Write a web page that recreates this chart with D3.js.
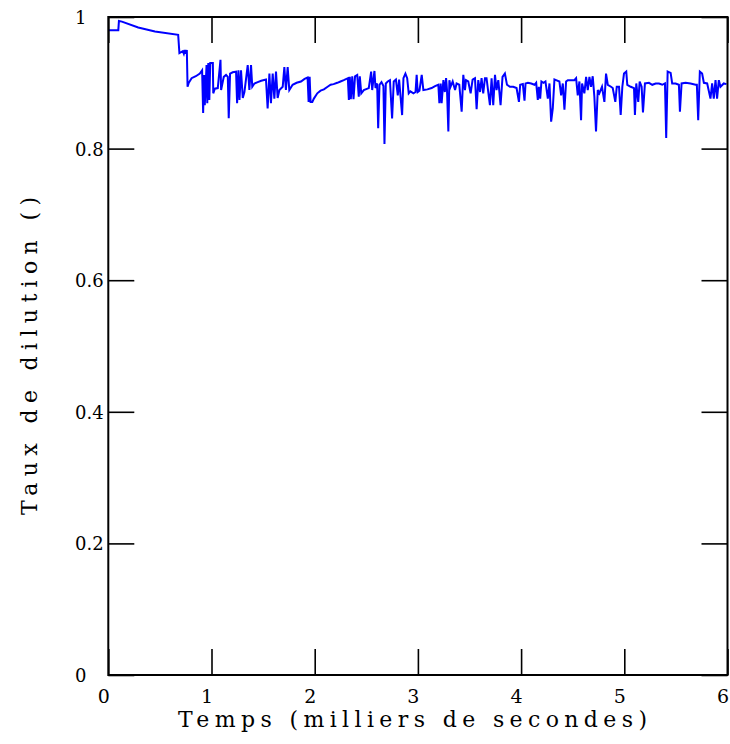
<!DOCTYPE html>
<html>
<head>
<meta charset="utf-8">
<script src="https://cdn.jsdelivr.net/npm/d3@7"></script>
<style>
  html, body { margin: 0; padding: 0; background: #fff; }
  svg { display: block; }
  svg text { font-family: "DejaVu Serif", serif; fill: #000; }
</style>
</head>
<body>
<svg id="chart" width="730" height="744"></svg>
<script>
// ---- data (temps en milliers de secondes, taux de dilution) ----
const times = [
  0, 0.097, 0.103, 0.132, 0.290, 0.452, 0.677, 0.689, 0.722, 0.732, 0.742, 0.751, 0.761, 0.768, 0.780, 0.807, 0.848, 0.887, 0.909, 0.919,
  0.928, 0.935, 0.952, 0.959, 0.969, 0.979, 0.988, 1.013, 1.017, 1.032, 1.061, 1.087, 1.093, 1.119, 1.141, 1.158, 1.167, 1.180, 1.206, 1.238,
  1.248, 1.261, 1.271, 1.286, 1.303, 1.319, 1.351, 1.367, 1.383, 1.395, 1.416, 1.448, 1.482, 1.528, 1.544, 1.561, 1.576, 1.593, 1.609, 1.625,
  1.641, 1.658, 1.690, 1.706, 1.721, 1.738, 1.754, 1.786, 1.825, 1.867, 1.902, 1.931, 1.941, 1.951, 1.960, 1.977, 1.992, 2.025, 2.057, 2.089,
  2.125, 2.154, 2.183, 2.219, 2.250, 2.282, 2.321, 2.331, 2.340, 2.350, 2.364, 2.376, 2.391, 2.412, 2.427, 2.437, 2.451, 2.476, 2.524, 2.547,
  2.557, 2.579, 2.589, 2.605, 2.615, 2.628, 2.647, 2.666, 2.676, 2.689, 2.708, 2.729, 2.750, 2.766, 2.787, 2.805, 2.818, 2.847, 2.860, 2.879,
  2.896, 2.911, 2.927, 2.957, 2.977, 2.988, 2.998, 3.015, 3.037, 3.053, 3.092, 3.133, 3.166, 3.198, 3.208, 3.221, 3.230, 3.247, 3.261, 3.273,
  3.282, 3.295, 3.305, 3.317, 3.337, 3.360, 3.375, 3.401, 3.424, 3.440, 3.456, 3.466, 3.488, 3.511, 3.530, 3.553, 3.569, 3.585, 3.602, 3.617,
  3.633, 3.650, 3.665, 3.682, 3.698, 3.714, 3.730, 3.747, 3.762, 3.779, 3.801, 3.820, 3.843, 3.863, 3.892, 3.924, 3.956, 3.979, 3.991, 4.017,
  4.033, 4.043, 4.066, 4.098, 4.130, 4.146, 4.162, 4.172, 4.185, 4.197, 4.217, 4.236, 4.259, 4.275, 4.291, 4.307, 4.323, 4.339, 4.371, 4.388,
  4.404, 4.420, 4.436, 4.453, 4.485, 4.516, 4.533, 4.549, 4.565, 4.581, 4.591, 4.613, 4.630, 4.646, 4.662, 4.678, 4.694, 4.710, 4.726, 4.743,
  4.758, 4.784, 4.807, 4.823, 4.840, 4.871, 4.888, 4.913, 4.927, 4.949, 4.965, 4.981, 4.997, 5.019, 5.029, 5.062, 5.094, 5.103, 5.116, 5.135,
  5.149, 5.168, 5.181, 5.200, 5.239, 5.271, 5.304, 5.336, 5.368, 5.394, 5.406, 5.420, 5.449, 5.464, 5.497, 5.529, 5.539, 5.555, 5.594, 5.642,
  5.691, 5.703, 5.716, 5.732, 5.754, 5.771, 5.803, 5.835, 5.851, 5.867, 5.884, 5.899, 5.916, 5.932, 5.964, 5.990
];
const dilution = [
  0.980, 0.980, 0.994, 0.993, 0.984, 0.978, 0.973, 0.945, 0.948, 0.944, 0.950, 0.944, 0.950, 0.894, 0.900, 0.907, 0.910, 0.914, 0.919, 0.854,
  0.912, 0.866, 0.927, 0.869, 0.930, 0.874, 0.930, 0.930, 0.884, 0.891, 0.892, 0.935, 0.889, 0.909, 0.912, 0.909, 0.846, 0.914, 0.916, 0.917,
  0.869, 0.919, 0.874, 0.919, 0.877, 0.886, 0.927, 0.889, 0.927, 0.894, 0.899, 0.901, 0.903, 0.905, 0.861, 0.914, 0.869, 0.914, 0.876, 0.917,
  0.877, 0.889, 0.894, 0.924, 0.889, 0.924, 0.889, 0.897, 0.900, 0.902, 0.906, 0.908, 0.871, 0.909, 0.871, 0.871, 0.876, 0.884, 0.888, 0.890,
  0.894, 0.897, 0.898, 0.900, 0.902, 0.904, 0.907, 0.874, 0.909, 0.875, 0.910, 0.875, 0.910, 0.912, 0.879, 0.910, 0.884, 0.889, 0.892, 0.917,
  0.889, 0.918, 0.892, 0.899, 0.831, 0.897, 0.901, 0.895, 0.807, 0.899, 0.902, 0.904, 0.846, 0.902, 0.905, 0.881, 0.905, 0.851, 0.907, 0.914,
  0.907, 0.884, 0.887, 0.884, 0.886, 0.912, 0.886, 0.888, 0.912, 0.889, 0.890, 0.892, 0.895, 0.897, 0.869, 0.899, 0.869, 0.904, 0.886, 0.907,
  0.889, 0.826, 0.904, 0.894, 0.902, 0.889, 0.899, 0.897, 0.856, 0.912, 0.889, 0.904, 0.902, 0.884, 0.905, 0.907, 0.860, 0.904, 0.886, 0.907,
  0.884, 0.907, 0.907, 0.886, 0.866, 0.907, 0.866, 0.912, 0.889, 0.904, 0.866, 0.909, 0.914, 0.897, 0.894, 0.894, 0.892, 0.871, 0.897, 0.898,
  0.873, 0.899, 0.900, 0.899, 0.897, 0.900, 0.874, 0.894, 0.876, 0.902, 0.900, 0.902, 0.876, 0.899, 0.841, 0.861, 0.905, 0.904, 0.902, 0.881,
  0.899, 0.859, 0.902, 0.904, 0.904, 0.904, 0.907, 0.881, 0.902, 0.843, 0.899, 0.884, 0.909, 0.889, 0.909, 0.894, 0.910, 0.879, 0.826, 0.889,
  0.884, 0.894, 0.871, 0.914, 0.897, 0.894, 0.892, 0.871, 0.894, 0.894, 0.851, 0.894, 0.914, 0.917, 0.897, 0.894, 0.892, 0.851, 0.899, 0.871,
  0.902, 0.894, 0.855, 0.899, 0.900, 0.897, 0.899, 0.899, 0.897, 0.899, 0.816, 0.917, 0.915, 0.899, 0.899, 0.897, 0.856, 0.899, 0.900, 0.899,
  0.897, 0.897, 0.843, 0.917, 0.914, 0.900, 0.899, 0.876, 0.899, 0.876, 0.904, 0.876, 0.904, 0.894, 0.899, 0.898
];
const xTicks = [0, 1, 2, 3, 4, 5, 6];
const xTickLabels = ["0", "1", "2", "3", "4", "5", "6"];
const yTicks = [0, 0.2, 0.4, 0.6, 0.8, 1];
const yTickLabels = ["0", "0.2", "0.4", "0.6", "0.8", "1"];
const xTitle = "Temps (milliers de secondes)";
const yTitle = "Taux de dilution ()";

(function () {
  const mLeft = 108.3, mRight = 727.5, mTop = 17, mBottom = 675;
  const tickLen = 26;
  const FONT = "'DejaVu Serif', serif";

  const svg = d3.select("#chart");
  const x = d3.scaleLinear().domain([0, 6]).range([mLeft, mRight]);
  const y = d3.scaleLinear().domain([0, 1]).range([mBottom, mTop]);

  const data = times.map((t, i) => ({ t, v: dilution[i] }));

  svg.append("path")
    .datum(data)
    .attr("fill", "none")
    .attr("stroke", "#0000ff")
    .attr("stroke-width", 2)
    .attr("d", d3.line().x(d => x(d.t)).y(d => y(d.v)));

  function styleAxis(g) {
    g.select(".domain").remove();
    g.selectAll(".tick line").attr("stroke", "#000").attr("stroke-width", 1.6);
  }

  const gx = svg.append("g")
    .attr("transform", `translate(0,${mBottom})`)
    .call(d3.axisBottom(x).tickValues(xTicks).tickSize(-tickLen)
      .tickFormat((d, i) => xTickLabels[i]));
  styleAxis(gx);
  gx.selectAll(".tick text")
    .attr("y", 28).attr("dy", 0).attr("x", -5)
    .style("font-family", FONT).style("font-size", "19px");

  const gxt = svg.append("g")
    .attr("transform", `translate(0,${mTop})`)
    .call(d3.axisTop(x).tickValues(xTicks).tickSize(-tickLen).tickFormat(""));
  styleAxis(gxt);

  const gy = svg.append("g")
    .attr("transform", `translate(${mLeft},0)`)
    .call(d3.axisLeft(y).tickValues(yTicks).tickSize(-tickLen)
      .tickFormat((d, i) => yTickLabels[i]));
  styleAxis(gy);
  gy.selectAll(".tick text")
    .attr("text-anchor", "start")
    .attr("x", 75 - mLeft)
    .attr("dy", "0.36em")
    .style("font-family", FONT).style("font-size", "18px");

  const gyr = svg.append("g")
    .attr("transform", `translate(${mRight},0)`)
    .call(d3.axisRight(y).tickValues(yTicks).tickSize(-tickLen).tickFormat(""));
  styleAxis(gyr);

  svg.append("rect")
    .attr("x", mLeft).attr("y", mTop)
    .attr("width", mRight - mLeft).attr("height", mBottom - mTop)
    .attr("fill", "none").attr("stroke", "#000").attr("stroke-width", 2);

  svg.append("text")
    .attr("x", 412.5).attr("y", 727)
    .attr("text-anchor", "middle")
    .style("font-family", FONT).style("font-size", "22px")
    .attr("textLength", 469).attr("lengthAdjust", "spacing")
    .text(xTitle);

  svg.append("text")
    .attr("transform", "translate(37,356) rotate(-90)")
    .attr("text-anchor", "middle")
    .style("font-family", FONT).style("font-size", "22px")
    .attr("textLength", 318).attr("lengthAdjust", "spacing")
    .text(yTitle);
})();
</script>
</body>
</html>
